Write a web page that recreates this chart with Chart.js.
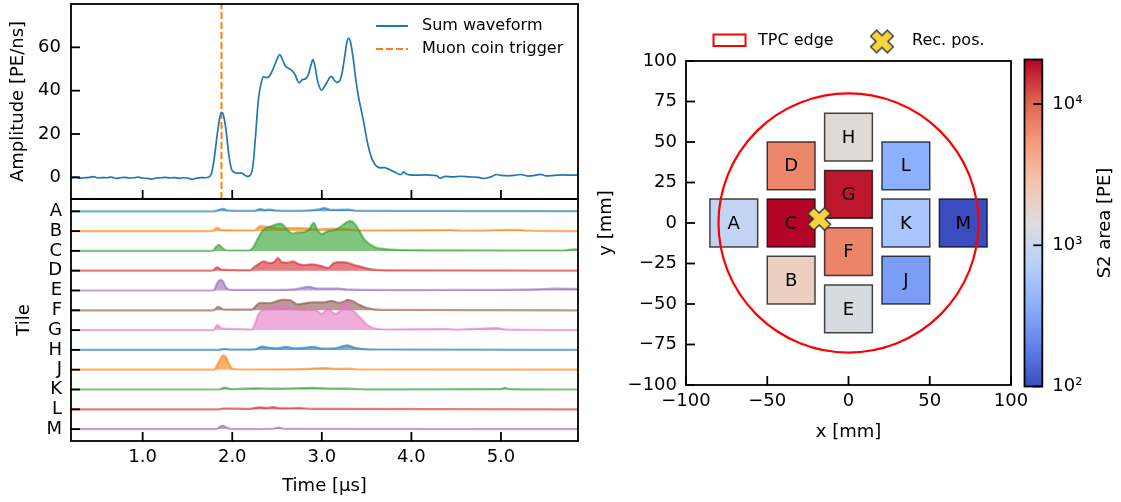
<!DOCTYPE html>
<html>
<head>
<meta charset="utf-8">
<script src="https://cdn.jsdelivr.net/npm/chart.js@4.4.1/dist/chart.umd.min.js"></script>
<style>
  body { margin: 0; background: #fff; }
  #pagina { position: relative; width: 1121px; height: 502px; overflow: hidden; }
  canvas { position: absolute; }
</style>
</head>
<body>
<div id="pagina">
  <canvas id="graficoSoma" width="600" height="200" style="left:0;top:0"></canvas>
  <canvas id="graficoTiles" width="600" height="312" style="left:0;top:190px"></canvas>
  <canvas id="graficoMapa" width="440" height="502" style="left:590px;top:0"></canvas>
  <canvas id="barraCores" width="121" height="502" style="left:1000px;top:0"></canvas>
</div>
<script>
// Forma de onda somada: [tempo (µs), amplitude (PE/ns)]
const formaSoma = [
  [0.2, -0.3], [0.25, 0.1], [0.3, -0.4], [0.35, -0.2], [0.4, 0.0], [0.45, 0.3], [0.5, -0.3], [0.55, -0.1], [0.6, -0.2], [0.65, 0.1],
  [0.7, -0.5], [0.75, -0.2], [0.8, 0.0], [0.85, -0.3], [0.9, -0.2], [0.95, 0.1], [1.0, -0.3], [1.05, -0.5], [1.1, -0.8], [1.15, -0.3],
  [1.2, -0.2], [1.25, 0.0], [1.3, -0.3], [1.35, -0.1], [1.4, -0.4], [1.45, -0.2], [1.5, -0.3], [1.55, -0.9], [1.6, -0.4], [1.65, -0.1],
  [1.7, -0.2], [1.74, 0.1], [1.77, 2], [1.8, 9], [1.83, 19], [1.86, 27.5], [1.88, 30], [1.9, 29], [1.93, 22], [1.96, 11],
  [1.99, 4], [2.02, 2.4], [2.06, 1.9], [2.1, 2.1], [2.14, 1.0], [2.17, 0.4], [2.2, 0.9], [2.23, 5], [2.26, 19], [2.29, 35],
  [2.32, 43], [2.35, 46.5], [2.38, 46], [2.41, 46.5], [2.44, 48.5], [2.47, 51.5], [2.5, 54.5], [2.53, 56.7], [2.56, 54.5], [2.59, 51.5],
  [2.62, 50.5], [2.66, 49.5], [2.7, 47.5], [2.73, 44.5], [2.75, 43.6], [2.78, 45], [2.82, 45.5], [2.85, 47.5], [2.88, 52], [2.9, 54.3],
  [2.92, 52], [2.95, 45], [2.98, 41], [3.0, 40.2], [3.03, 42], [3.06, 44], [3.09, 46.2], [3.11, 46.5], [3.14, 44.8], [3.17, 43.8],
  [3.2, 44.5], [3.23, 49], [3.26, 57], [3.28, 62.5], [3.3, 64.2], [3.32, 62.5], [3.35, 55], [3.38, 45], [3.41, 37], [3.44, 31],
  [3.47, 25], [3.5, 18], [3.53, 12.5], [3.56, 8.5], [3.59, 6.2], [3.62, 4.9], [3.66, 4.4], [3.7, 4.5], [3.74, 3.9], [3.78, 3.1],
  [3.82, 2.3], [3.86, 1.4], [3.89, 1.3], [3.91, 2.5], [3.94, 1.6], [3.98, 1.1], [4.05, 1.0], [4.15, 1.1], [4.25, 0.9], [4.29, 0.6],
  [4.32, -0.4], [4.38, 0.4], [4.46, 0.2], [4.55, 0.5], [4.65, 0.2], [4.75, 0.0], [4.8, -0.5], [4.84, -0.3], [4.9, 0.4], [4.95, 1.3],
  [5.0, 0.9], [5.08, 0.7], [5.15, 0.9], [5.22, 1.3], [5.3, 0.6], [5.38, 0.9], [5.44, 1.4], [5.5, 0.7], [5.6, 0.9], [5.7, 1.1],
  [5.78, 1.0], [5.86, 1.1]
];
const tempoTrigger = 1.88;

// Sinais de cada tile: [tempo (µs), amplitude relativa]
const tracoA = [[0.2, 0], [1.8, 0], [1.86, 0.08], [1.9, 0.12], [1.95, 0.03], [2.25, 0.02], [2.31, 0.11], [2.36, 0.06], [2.42, 0.09], [2.5, 0.03], [2.7, 0.02], [2.95, 0.08], [3.03, 0.16], [3.1, 0.07], [3.3, 0.08], [3.4, 0.02], [5.86, 0.01]];
const tracoB = [[0.2, 0], [1.78, 0], [1.83, 0.17], [1.88, 0.05], [2.25, 0.03], [2.31, 0.25], [2.38, 0.22], [2.45, 0.18], [2.55, 0.12], [2.65, 0.15], [2.75, 0.15], [2.85, 0.13], [2.95, 0.08], [3.1, 0.12], [3.25, 0.1], [3.4, 0.03], [4.45, 0.05], [4.55, 0.02], [5.2, 0.06], [5.3, 0.02], [5.86, 0]];
const tracoC = [[0.2, 0], [1.78, 0], [1.82, 0.2], [1.85, 0.3], [1.89, 0.15], [1.93, 0.02], [2.18, 0.02], [2.23, 0.15], [2.27, 0.47], [2.33, 0.97], [2.39, 1.18], [2.45, 1.27], [2.5, 1.35], [2.54, 1.38], [2.58, 1.25], [2.62, 1.05], [2.67, 0.87], [2.73, 0.93], [2.8, 0.95], [2.86, 1.1], [2.91, 1.42], [2.95, 1.05], [3.0, 0.85], [3.07, 1.0], [3.15, 1.06], [3.22, 1.25], [3.28, 1.45], [3.32, 1.5], [3.37, 1.35], [3.42, 1.0], [3.47, 0.6], [3.53, 0.35], [3.6, 0.17], [3.7, 0.09], [3.85, 0.05], [4.1, 0.03], [5.7, 0.02], [5.82, 0.08], [5.86, 0.06]];
const tracoD = [[0.2, 0], [1.78, 0], [1.83, 0.17], [1.88, 0.05], [2.2, 0.02], [2.25, 0.2], [2.3, 0.35], [2.35, 0.47], [2.42, 0.38], [2.47, 0.45], [2.51, 0.63], [2.56, 0.42], [2.62, 0.4], [2.68, 0.47], [2.73, 0.36], [2.8, 0.28], [2.88, 0.32], [2.93, 0.3], [3.0, 0.22], [3.07, 0.13], [3.13, 0.38], [3.21, 0.43], [3.29, 0.4], [3.35, 0.3], [3.42, 0.22], [3.5, 0.12], [3.6, 0.04], [3.7, 0.02], [5.86, 0]];
const tracoE = [[0.2, 0], [1.79, 0], [1.83, 0.35], [1.86, 0.53], [1.89, 0.5], [1.93, 0.15], [1.98, 0.03], [2.5, 0.03], [2.7, 0.06], [2.86, 0.18], [2.95, 0.1], [3.19, 0.1], [3.3, 0.04], [4.0, 0.02], [4.8, 0.03], [5.4, 0.06], [5.6, 0.09], [5.86, 0.08]];
const tracoF = [[0.2, 0], [1.79, 0], [1.84, 0.17], [1.9, 0.04], [2.22, 0.03], [2.27, 0.25], [2.31, 0.37], [2.42, 0.36], [2.5, 0.47], [2.56, 0.53], [2.64, 0.52], [2.73, 0.3], [2.8, 0.35], [2.9, 0.4], [3.0, 0.4], [3.05, 0.42], [3.11, 0.48], [3.19, 0.38], [3.25, 0.45], [3.29, 0.53], [3.35, 0.45], [3.41, 0.3], [3.48, 0.15], [3.55, 0.07], [3.65, 0.02], [5.86, 0]];
const tracoG = [[0.2, 0], [1.79, 0], [1.83, 0.25], [1.89, 0.07], [2.22, 0.03], [2.26, 0.4], [2.29, 0.78], [2.35, 1.03], [2.44, 1.12], [2.5, 1.2], [2.55, 1.28], [2.65, 1.12], [2.77, 1.03], [2.85, 1.03], [2.92, 1.02], [3.0, 0.82], [3.07, 1.07], [3.15, 0.82], [3.21, 1.0], [3.27, 1.4], [3.34, 1.03], [3.43, 0.62], [3.51, 0.25], [3.59, 0.08], [3.7, 0.03], [4.37, 0.05], [4.5, 0.02], [4.96, 0.1], [5.05, 0.02], [5.86, 0]];
const tracoH = [[0.2, 0], [1.85, 0], [1.91, 0.05], [2.0, 0.01], [2.25, 0.03], [2.33, 0.17], [2.4, 0.12], [2.5, 0.08], [2.6, 0.15], [2.7, 0.08], [2.8, 0.1], [2.9, 0.16], [3.0, 0.07], [3.15, 0.08], [3.28, 0.23], [3.36, 0.12], [3.45, 0.05], [3.6, 0.02], [5.86, 0]];
const tracoJ = [[0.2, 0], [1.8, 0], [1.84, 0.3], [1.9, 0.72], [1.93, 0.62], [1.97, 0.25], [2.0, 0.05], [2.1, 0.01], [2.8, 0.03], [2.9, 0.06], [3.05, 0.08], [3.15, 0.04], [3.3, 0.05], [3.4, 0.01], [5.86, 0]];
const tracoK = [[0.2, 0], [1.85, 0], [1.92, 0.1], [1.98, 0.02], [2.3, 0.06], [2.45, 0.04], [2.6, 0.05], [2.9, 0.08], [3.1, 0.05], [3.3, 0.04], [3.5, 0.01], [5.0, 0.02], [5.04, 0.08], [5.1, 0.02], [5.86, 0]];
const tracoL = [[0.2, 0], [1.85, 0], [1.9, 0.04], [2.2, 0.02], [2.3, 0.1], [2.38, 0.07], [2.46, 0.11], [2.55, 0.05], [2.75, 0.06], [2.9, 0.02], [5.86, 0]];
const tracoM = [[0.2, 0], [1.82, 0], [1.89, 0.18], [1.95, 0.05], [2.0, 0], [2.45, 0.01], [2.52, 0.08], [2.58, 0.01], [5.86, 0]];

// Tiles: nomes, posições (mm) e área S2 (PE)
const nomesTiles = ['A', 'B', 'C', 'D', 'E', 'F', 'G', 'H', 'J', 'K', 'L', 'M'];
const tileX = [-70.6, -35.3, -35.3, -35.3, 0, 0, 0, 0, 35.3, 35.3, 35.3, 70.6];
const tileY = [0, -35.3, 0, 35.3, -53, -17.7, 17.7, 53, -35.3, 0, 35.3, 0];
const areaS2 = [890, 2100, 20700, 6800, 1300, 7000, 18000, 1600, 290, 585, 380, 100];
const recX = [-18];
const recY = [2.5];
const raioTPC = 80;
const ladoTile = 29.4;

// Escalas e marcas
const limTempo = [0.2, 5.86];
const ticksTempo = [1, 2, 3, 4, 5];
const ticksAmp = [0, 20, 40, 60];
const ticksMapaX = [-100, -50, 0, 50, 100];
const ticksMapaY = [-100, -75, -50, -25, 0, 25, 50, 75, 100];
const limBarra = [100, 20700];
const ticksBarra = [100, 1000, 10000];

const coresTab = ['#1f77b4', '#ff7f0e', '#2ca02c', '#d62728', '#9467bd', '#8c564b', '#e377c2'];
const coolwarm = [[59, 76, 192], [98, 130, 234], [141, 176, 254], [184, 208, 249], [221, 221, 221],
  [245, 196, 172], [244, 154, 123], [222, 96, 77], [180, 4, 38]];
const fonte = '"DejaVu Sans", sans-serif';

Chart.defaults.font.family = fonte;
Chart.defaults.font.size = 18;
Chart.defaults.color = '#000';
Chart.defaults.animation = false;
Chart.defaults.plugins.legend.display = false;
Chart.defaults.plugins.tooltip.enabled = false;

function rgba(hex, a) {
  const n = parseInt(hex.slice(1), 16);
  return `rgba(${n >> 16},${(n >> 8) & 255},${n & 255},${a})`;
}

// Cor do mapa coolwarm para uma fração 0..1
function corCoolwarm(f) {
  f = Math.max(0, Math.min(1, f));
  const p = f * (coolwarm.length - 1);
  const i = Math.min(coolwarm.length - 2, Math.floor(p));
  const t = p - i;
  const c = coolwarm[i].map((v, k) => Math.round(v + (coolwarm[i + 1][k] - v) * t));
  return `rgb(${c[0]},${c[1]},${c[2]})`;
}

function fracaoLog(v) {
  const a = Math.log10(limBarra[0]), b = Math.log10(limBarra[1]);
  return (Math.log10(v) - a) / (b - a);
}

function menos(v) {
  return String(v).replace('-', '\u2212');
}

// Marcador X amarelo (posição reconstruída)
function criarMarcadorX() {
  const c = document.createElement('canvas');
  c.width = 30; c.height = 30;
  const g = c.getContext('2d');
  const a = 11.8, w = 4.2;
  g.translate(15, 15);
  g.rotate(Math.PI / 4);
  g.beginPath();
  [[-w, -a], [w, -a], [w, -w], [a, -w], [a, w], [w, w], [w, a], [-w, a], [-w, w], [-a, w], [-a, -w], [-w, -w]]
    .forEach(([x, y], i) => i ? g.lineTo(x, y) : g.moveTo(x, y));
  g.closePath();
  g.fillStyle = '#f6d33c';
  g.fill();
  g.strokeStyle = '#333';
  g.lineWidth = 1.4;
  g.stroke();
  return c;
}
const marcadorX = criarMarcadorX();

// Moldura e marcas para dentro, estilo matplotlib
const moldura = {
  id: 'moldura',
  afterDraw(chart, args, opts) {
    const ctx = chart.ctx;
    const a = chart.chartArea;
    ctx.save();
    ctx.strokeStyle = '#000';
    ctx.lineWidth = 1.8;
    (opts.marcas || []).forEach(cfg => {
      const escala = chart.scales[cfg.escala];
      escala.ticks.forEach((t, i) => {
        const p = escala.getPixelForTick(i);
        ctx.beginPath();
        if (cfg.lado === 'baixo') { ctx.moveTo(p, a.bottom); ctx.lineTo(p, a.bottom - 9); }
        if (cfg.lado === 'esquerda') { ctx.moveTo(a.left, p); ctx.lineTo(a.left + 9, p); }
        if (cfg.lado === 'direita') { ctx.moveTo(a.right, p); ctx.lineTo(a.right - 9, p); }
        ctx.stroke();
      });
    });
    ctx.strokeRect(a.left, a.top, a.right - a.left, a.bottom - a.top);
    ctx.restore();
  }
};

// Legenda do gráfico da soma
const legendaSoma = {
  id: 'legendaSoma',
  afterDraw(chart) {
    const ctx = chart.ctx;
    ctx.save();
    ctx.lineWidth = 2;
    ctx.strokeStyle = '#1f77b4';
    ctx.beginPath(); ctx.moveTo(376, 26); ctx.lineTo(408, 26); ctx.stroke();
    ctx.strokeStyle = '#ff7f0e';
    ctx.setLineDash([7, 3]);
    ctx.beginPath(); ctx.moveTo(376, 49); ctx.lineTo(408, 49); ctx.stroke();
    ctx.setLineDash([]);
    ctx.fillStyle = '#000';
    ctx.font = '16px ' + fonte;
    ctx.textBaseline = 'middle';
    ctx.fillText('Sum waveform', 422, 26);
    ctx.fillText('Muon coin trigger', 422, 49);
    ctx.restore();
  }
};

// Círculo da TPC, letras dos tiles e legenda do mapa
const detalhesMapa = {
  id: 'detalhesMapa',
  afterDatasetsDraw(chart) {
    const {ctx, scales: {x, y}} = chart;
    const cx = x.getPixelForValue(0), cy = y.getPixelForValue(0);
    const rx = x.getPixelForValue(raioTPC) - cx, ry = cy - y.getPixelForValue(raioTPC);
    ctx.save();
    ctx.beginPath();
    ctx.ellipse(cx, cy, rx, ry, 0, 0, 2 * Math.PI);
    ctx.strokeStyle = '#ff0000';
    ctx.lineWidth = 2.2;
    ctx.stroke();
    ctx.fillStyle = '#000';
    ctx.font = '18px ' + fonte;
    ctx.textAlign = 'center';
    ctx.textBaseline = 'middle';
    chart.getDatasetMeta(1).data.forEach((p, i) => ctx.fillText(nomesTiles[i], p.x, p.y + 1));
    ctx.restore();
  },
  afterDraw(chart) {
    const ctx = chart.ctx;
    ctx.save();
    ctx.strokeStyle = '#ff0000';
    ctx.lineWidth = 2;
    ctx.strokeRect(123.5, 34.5, 32, 11.5);
    ctx.drawImage(marcadorX, 292 - 15, 41.5 - 15);
    ctx.fillStyle = '#000';
    ctx.font = '16px ' + fonte;
    ctx.textBaseline = 'middle';
    ctx.fillText('TPC edge', 168, 40.5);
    ctx.fillText('Rec. pos.', 322, 40.5);
    ctx.restore();
  }
};

// Rótulo da barra de cores (de baixo para cima)
const rotuloBarra = {
  id: 'rotuloBarra',
  afterDraw(chart) {
    const ctx = chart.ctx;
    ctx.save();
    ctx.translate(105, 223);
    ctx.rotate(-Math.PI / 2);
    ctx.fillStyle = '#000';
    ctx.font = '18px ' + fonte;
    ctx.textAlign = 'center';
    ctx.textBaseline = 'middle';
    ctx.fillText('S2 area [PE]', 0, 0);
    ctx.restore();
  }
};

function fixarTicks(lista) {
  return escala => { escala.ticks = lista.map(v => ({value: v})); };
}

// Tamanho fixo do eixo, sem folga extra para os rótulos das pontas
function fixarTamanho(prop, valor) {
  return escala => {
    escala[prop] = valor;
    escala.paddingTop = 0;
    escala.paddingBottom = 0;
    escala.paddingLeft = 0;
    escala.paddingRight = 0;
  };
}

const eixoBase = {
  grid: {display: false, drawTicks: false},
  border: {display: false}
};

// Gráfico da forma de onda somada
new Chart(document.getElementById('graficoSoma'), {
  type: 'line',
  data: {
    datasets: [
      {
        data: formaSoma.map(([t, a]) => ({x: t, y: a})),
        borderColor: '#1f77b4', borderWidth: 1.7, pointRadius: 0,
        cubicInterpolationMode: 'monotone'
      },
      {
        data: [{x: tempoTrigger, y: -10}, {x: tempoTrigger, y: 80}],
        borderColor: '#ff7f0e', borderWidth: 2, borderDash: [7, 3], pointRadius: 0
      }
    ]
  },
  options: {
    responsive: false,
    layout: {padding: {left: 0, top: 4, right: 22, bottom: 1}},
    scales: {
      x: {
        ...eixoBase, type: 'linear', min: limTempo[0], max: limTempo[1],
        ticks: {display: false, autoSkip: false},
        afterBuildTicks: fixarTicks(ticksTempo),
        afterFit: fixarTamanho('height', 0)
      },
      y: {
        ...eixoBase, min: -10, max: 80,
        ticks: {padding: 10, autoSkip: false},
        afterBuildTicks: fixarTicks(ticksAmp),
        afterFit: fixarTamanho('width', 71),
        title: {display: true, text: 'Amplitude [PE/ns]', padding: {top: 8, bottom: 0}}
      }
    },
    plugins: {
      moldura: {marcas: [{escala: 'x', lado: 'baixo'}, {escala: 'y', lado: 'esquerda'}]}
    }
  },
  plugins: [moldura, legendaSoma]
});

// Gráfico dos sinais por tile
const tracos = [tracoA, tracoB, tracoC, tracoD, tracoE, tracoF, tracoG, tracoH, tracoJ, tracoK, tracoL, tracoM];
const nT = nomesTiles.length;
const datasetsTiles = tracos.map((traco, i) => {
  const base = nT - 1 - i;
  const cor = coresTab[i % coresTab.length];
  return {
    data: traco.map(([t, v]) => ({x: t, y: base + v})),
    borderColor: rgba(cor, 0.6),
    backgroundColor: rgba(cor, 0.6),
    borderWidth: 2.2,
    pointRadius: 0,
    fill: {value: base},
    cubicInterpolationMode: 'monotone',
    order: nT - i
  };
});

new Chart(document.getElementById('graficoTiles'), {
  type: 'line',
  data: {datasets: datasetsTiles},
  options: {
    responsive: false,
    layout: {padding: {left: 0, top: 9, right: 22, bottom: 0}},
    scales: {
      x: {
        ...eixoBase, type: 'linear', min: limTempo[0], max: limTempo[1],
        ticks: {padding: 6, autoSkip: false, maxRotation: 0, callback: v => v.toFixed(1)},
        afterBuildTicks: fixarTicks(ticksTempo),
        afterFit: fixarTamanho('height', 61),
        title: {display: true, text: 'Time [µs]', padding: {top: 0, bottom: 5}}
      },
      y: {
        ...eixoBase, min: -0.6, max: 11.62,
        ticks: {padding: 9, autoSkip: false, callback: v => nomesTiles[nT - 1 - Math.round(v)]},
        afterBuildTicks: fixarTicks(nomesTiles.map((n, i) => nT - 1 - i)),
        afterFit: fixarTamanho('width', 71),
        title: {display: true, text: 'Tile', padding: {top: 14, bottom: 0}}
      }
    },
    plugins: {
      moldura: {marcas: [{escala: 'x', lado: 'baixo'}, {escala: 'y', lado: 'esquerda'}]}
    }
  },
  plugins: [moldura]
});

// Mapa dos tiles com posição reconstruída
new Chart(document.getElementById('graficoMapa'), {
  type: 'scatter',
  data: {
    datasets: [
      {
        data: recX.map((x, i) => ({x, y: recY[i]})),
        pointStyle: marcadorX, pointRadius: 10
      },
      {
        data: tileX.map((x, i) => ({x, y: tileY[i]})),
        pointStyle: 'rect',
        pointRadius: ctx => {
          const s = ctx.chart.scales.x;
          return (s.getPixelForValue(ladoTile / 2) - s.getPixelForValue(0)) * Math.SQRT2;
        },
        backgroundColor: areaS2.map(v => corCoolwarm(fracaoLog(v))),
        borderColor: 'rgba(0,0,0,0.72)',
        borderWidth: 1.5
      }
    ]
  },
  options: {
    responsive: false,
    layout: {padding: {left: 0, top: 61, right: 19, bottom: 57}},
    scales: {
      x: {
        ...eixoBase, type: 'linear', min: -100, max: 100,
        ticks: {padding: 6, autoSkip: false, maxRotation: 0, callback: v => menos(v)},
        afterBuildTicks: fixarTicks(ticksMapaX),
        afterFit: fixarTamanho('height', 60),
        title: {display: true, text: 'x [mm]', padding: {top: 0, bottom: 2}}
      },
      y: {
        ...eixoBase, min: -100, max: 100,
        ticks: {padding: 9, autoSkip: false, callback: v => menos(v)},
        afterBuildTicks: fixarTicks(ticksMapaY),
        afterFit: fixarTamanho('width', 96),
        title: {display: true, text: 'y [mm]', padding: {top: 6, bottom: 0}}
      }
    },
    plugins: {
      moldura: {marcas: [{escala: 'x', lado: 'baixo'}, {escala: 'y', lado: 'esquerda'}]}
    }
  },
  plugins: [moldura, detalhesMapa]
});

// Barra de cores (escala log)
const expoentes = {2: '\u00b2', 3: '\u00b3', 4: '\u2074'};
new Chart(document.getElementById('barraCores'), {
  type: 'bar',
  data: {
    labels: [''],
    datasets: [{
      data: [limBarra],
      barPercentage: 1,
      categoryPercentage: 1,
      borderWidth: 0,
      backgroundColor: ctx => {
        const area = ctx.chart.chartArea;
        if (!area) return '#ddd';
        const g = ctx.chart.ctx.createLinearGradient(0, area.bottom, 0, area.top);
        coolwarm.forEach((c, i) => g.addColorStop(i / (coolwarm.length - 1), `rgb(${c[0]},${c[1]},${c[2]})`));
        return g;
      }
    }]
  },
  options: {
    responsive: false,
    layout: {padding: {left: 24.5, top: 59.5, right: 0, bottom: 115.5}},
    scales: {
      x: {display: false},
      y: {
        ...eixoBase, type: 'logarithmic', position: 'right', min: limBarra[0], max: limBarra[1],
        ticks: {padding: 10, autoSkip: false, callback: v => '10' + expoentes[Math.round(Math.log10(v))]},
        afterBuildTicks: fixarTicks(ticksBarra),
        afterFit: fixarTamanho('width', 78.7)
      }
    },
    plugins: {
      moldura: {marcas: [{escala: 'y', lado: 'direita'}]}
    }
  },
  plugins: [moldura, rotuloBarra]
});
</script>
</body>
</html>
